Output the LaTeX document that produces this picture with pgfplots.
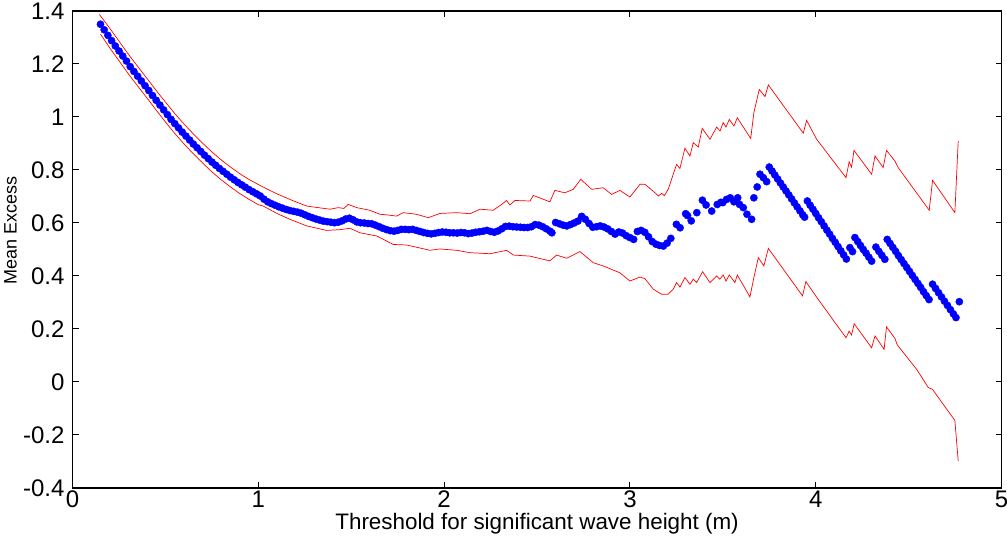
\documentclass[border=0pt]{standalone}
\usepackage{fontspec}
\setmainfont{Liberation Sans}
\usepackage{pgfplots}
\pgfplotsset{compat=1.18}
\begin{document}
\begin{tikzpicture}
\path[use as bounding box] (-72.6pt,-49pt) rectangle (934.4pt,488pt);
\begin{axis}[
 at={(0pt,0pt)}, anchor=south west,
 width=928.9pt, height=477pt, scale only axis,
 xmin=0, xmax=5, ymin=-0.4, ymax=1.4,
 xtick={0,1,2,3,4,5}, xticklabels={0,1,2,3,4,5},
 ytick={-0.4,-0.2,0,0.2,0.4,0.6,0.8,1,1.2,1.4},
 yticklabels={-0.4,-0.2,0,0.2,0.4,0.6,0.8,1,1.2,1.4},
 tick align=inside, xtick pos=both, ytick pos=both,
 major tick length=6pt,
 axis line style={line width=1.5pt},
 every tick/.style={black, line width=1pt},
 ticklabel style={font=\fontsize{24}{24}\selectfont},
 xticklabel style={anchor=north, inner sep=0pt, yshift=-3pt},
 yticklabel style={anchor=east, inner sep=0pt, xshift=-8pt},
 xlabel={Threshold for significant wave height (m)},
 ylabel={Mean Excess},
 every axis x label/.style={at={(axis description cs:0.5,0)}, anchor=base, yshift=-42pt, inner sep=0pt, font=\fontsize{22.4}{24}\selectfont},
 every axis y label/.style={at={(axis description cs:0,0.54)}, rotate=90, anchor=center, yshift=62pt, inner sep=0pt, font=\fontsize{18}{20}\selectfont},
]
\addplot[red, line width=0.7pt] coordinates {
(0.144,1.387) (0.20,1.335) (0.25,1.286) (0.30,1.237) (0.35,1.191) (0.40,1.146) (0.45,1.100) (0.50,1.056) (0.55,1.013) (0.60,0.973) (0.65,0.936) (0.70,0.901) (0.75,0.868) (0.80,0.838) (0.85,0.811) (0.90,0.786) (0.95,0.764) (1.00,0.745) (1.05,0.727) (1.10,0.710) (1.19,0.683) (1.26,0.664) (1.30,0.660) (1.385,0.652) (1.43,0.658) (1.46,0.655) (1.484,0.670) (1.53,0.658) (1.60,0.648) (1.654,0.633) (1.70,0.630) (1.744,0.626) (1.78,0.639) (1.85,0.633) (1.915,0.620) (1.977,0.636) (2.067,0.639) (2.139,0.635) (2.193,0.652) (2.264,0.648) (2.309,0.670) (2.336,0.685) (2.354,0.668) (2.381,0.685) (2.462,0.683) (2.48,0.704) (2.569,0.680) (2.596,0.723) (2.650,0.714) (2.695,0.727) (2.735,0.765) (2.794,0.727) (2.856,0.733) (2.901,0.708) (2.946,0.723) (3.000,0.698) (3.054,0.746) (3.081,0.746) (3.135,0.714) (3.153,0.702) (3.171,0.712) (3.185,0.703) (3.206,0.727) (3.224,0.765) (3.251,0.821) (3.269,0.806) (3.296,0.882) (3.323,0.853) (3.341,0.903) (3.368,0.887) (3.389,0.957) (3.431,0.916) (3.467,0.962) (3.485,0.947) (3.502,0.979) (3.517,0.962) (3.535,0.991) (3.560,0.966) (3.578,0.997) (3.650,0.919) (3.667,1.016) (3.696,1.104) (3.727,1.077) (3.745,1.121) (3.933,0.939) (3.951,0.987) (4.005,0.916) (4.163,0.771) (4.180,0.831) (4.193,0.811) (4.206,0.874) (4.301,0.784) (4.319,0.853) (4.363,0.809) (4.381,0.874) (4.426,0.834) (4.444,0.809) (4.611,0.648) (4.629,0.761) (4.749,0.639) (4.767,0.909)
};
\addplot[red, line width=0.7pt] coordinates {
(0.15,1.313) (0.20,1.261) (0.25,1.212) (0.30,1.163) (0.35,1.117) (0.40,1.072) (0.45,1.026) (0.50,0.981) (0.55,0.938) (0.60,0.898) (0.65,0.861) (0.70,0.826) (0.75,0.793) (0.80,0.763) (0.85,0.736) (0.90,0.711) (0.95,0.689) (1.00,0.669) (1.026,0.664) (1.10,0.636) (1.17,0.614) (1.26,0.589) (1.367,0.572) (1.44,0.575) (1.493,0.580) (1.547,0.563) (1.637,0.551) (1.726,0.519) (1.798,0.517) (1.924,0.497) (1.977,0.502) (2.067,0.497) (2.139,0.488) (2.247,0.484) (2.336,0.497) (2.372,0.479) (2.462,0.475) (2.569,0.457) (2.605,0.479) (2.659,0.467) (2.731,0.492) (2.803,0.450) (2.856,0.438) (2.946,0.412) (3.000,0.381) (3.054,0.396) (3.081,0.390) (3.126,0.350) (3.171,0.331) (3.206,0.331) (3.233,0.350) (3.251,0.375) (3.269,0.358) (3.296,0.394) (3.323,0.369) (3.341,0.388) (3.359,0.375) (3.391,0.416) (3.431,0.375) (3.467,0.400) (3.484,0.388) (3.502,0.404) (3.517,0.381) (3.535,0.404) (3.565,0.375) (3.578,0.404) (3.646,0.321) (3.667,0.394) (3.691,0.469) (3.721,0.438) (3.745,0.504) (3.929,0.325) (3.947,0.379) (4.005,0.320) (4.163,0.167) (4.180,0.192) (4.193,0.177) (4.207,0.220) (4.301,0.129) (4.319,0.174) (4.368,0.123) (4.381,0.208) (4.426,0.165) (4.439,0.140) (4.543,0.048) (4.606,-0.021) (4.629,-0.028) (4.686,-0.084) (4.749,-0.145) (4.767,-0.298)
};
\addplot[only marks, mark=*, mark size=3.6pt, color=blue, mark options={fill=blue, draw=blue}] coordinates {
(0.15,1.350) (0.17,1.329) (0.19,1.308) (0.21,1.288) (0.23,1.268) (0.25,1.249) (0.27,1.230) (0.29,1.211) (0.31,1.190) (0.33,1.172) (0.35,1.154) (0.37,1.136) (0.39,1.118) (0.41,1.100) (0.43,1.081) (0.45,1.063) (0.47,1.045) (0.49,1.027) (0.51,1.009) (0.53,0.991) (0.55,0.975) (0.57,0.959) (0.59,0.943) (0.61,0.928) (0.63,0.913) (0.65,0.898) (0.67,0.884) (0.69,0.870) (0.71,0.856) (0.73,0.843) (0.75,0.830) (0.77,0.818) (0.79,0.806) (0.81,0.795) (0.83,0.784) (0.85,0.773) (0.87,0.763) (0.89,0.753) (0.91,0.744) (0.93,0.735) (0.95,0.726) (0.97,0.718) (0.99,0.710) (1.01,0.702) (1.03,0.690) (1.05,0.680) (1.07,0.673) (1.09,0.667) (1.11,0.661) (1.13,0.656) (1.15,0.651) (1.17,0.647) (1.19,0.644) (1.21,0.641) (1.23,0.637) (1.25,0.631) (1.27,0.625) (1.29,0.620) (1.31,0.615) (1.33,0.611) (1.35,0.607) (1.37,0.605) (1.39,0.603) (1.41,0.601) (1.43,0.603) (1.45,0.608) (1.47,0.615) (1.49,0.618) (1.51,0.612) (1.53,0.604) (1.55,0.601) (1.57,0.600) (1.59,0.598) (1.61,0.597) (1.63,0.592) (1.65,0.586) (1.67,0.580) (1.69,0.575) (1.71,0.571) (1.73,0.569) (1.75,0.572) (1.77,0.576) (1.79,0.576) (1.81,0.575) (1.83,0.576) (1.85,0.572) (1.87,0.568) (1.89,0.564) (1.91,0.561) (1.93,0.559) (1.95,0.561) (1.97,0.564) (1.99,0.566) (2.01,0.565) (2.03,0.563) (2.05,0.563) (2.07,0.562) (2.09,0.564) (2.11,0.563) (2.13,0.560) (2.15,0.562) (2.17,0.565) (2.19,0.567) (2.21,0.569) (2.23,0.572) (2.25,0.568) (2.27,0.565) (2.29,0.570) (2.31,0.578) (2.33,0.587) (2.35,0.588) (2.37,0.586) (2.39,0.585) (2.41,0.584) (2.43,0.583) (2.45,0.583) (2.47,0.586) (2.49,0.594) (2.51,0.592) (2.53,0.586) (2.55,0.578) (2.57,0.569) (2.58,0.563)
(2.60,0.602) (2.62,0.597) (2.64,0.592) (2.66,0.589) (2.68,0.594) (2.70,0.600) (2.72,0.607) (2.74,0.625) (2.76,0.614) (2.78,0.598) (2.80,0.584) (2.82,0.586) (2.84,0.589) (2.86,0.585) (2.88,0.578) (2.90,0.568) (2.92,0.558) (2.94,0.566) (2.96,0.562) (2.98,0.552) (3.00,0.545) (3.02,0.538) (3.04,0.568) (3.06,0.572) (3.08,0.565) (3.10,0.548) (3.12,0.530) (3.14,0.520) (3.16,0.515) (3.18,0.513) (3.20,0.524) (3.22,0.542) (3.25,0.595) (3.27,0.582) (3.30,0.635) (3.31,0.628) (3.33,0.608) (3.36,0.639) (3.39,0.686) (3.41,0.668) (3.44,0.645) (3.47,0.670) (3.49,0.678) (3.50,0.677) (3.52,0.689) (3.54,0.695) (3.56,0.680) (3.58,0.695) (3.59,0.670) (3.61,0.658) (3.63,0.633) (3.655,0.614) (3.667,0.695) (3.685,0.736) (3.70,0.784) (3.718,0.771) (3.736,0.756)
(3.750,0.811) (3.765,0.796) (3.780,0.781) (3.795,0.766) (3.810,0.751) (3.825,0.736) (3.840,0.721) (3.855,0.706) (3.870,0.691) (3.885,0.676) (3.900,0.661) (3.915,0.646) (3.930,0.631) (3.940,0.622)
(3.955,0.683) (3.970,0.667) (3.985,0.652) (4.000,0.636) (4.015,0.620) (4.030,0.605) (4.045,0.589) (4.060,0.573) (4.075,0.558) (4.090,0.542) (4.105,0.527) (4.120,0.511) (4.135,0.495) (4.150,0.480) (4.165,0.464)
(4.184,0.507) (4.198,0.492)
(4.211,0.545) (4.226,0.530) (4.241,0.515) (4.256,0.500) (4.271,0.486) (4.286,0.471) (4.301,0.456)
(4.324,0.509) (4.340,0.493) (4.356,0.478) (4.372,0.463)
(4.385,0.538) (4.400,0.523) (4.415,0.508) (4.430,0.493) (4.445,0.477) (4.460,0.462) (4.475,0.447) (4.490,0.432) (4.505,0.417) (4.520,0.402) (4.535,0.387) (4.550,0.372) (4.565,0.357) (4.580,0.341) (4.595,0.326) (4.610,0.311)
(4.629,0.369) (4.645,0.353) (4.661,0.337) (4.677,0.321) (4.693,0.305) (4.709,0.289) (4.725,0.273) (4.741,0.257) (4.755,0.243)
(4.773,0.303)
};
\end{axis}
\end{tikzpicture}
\end{document}
